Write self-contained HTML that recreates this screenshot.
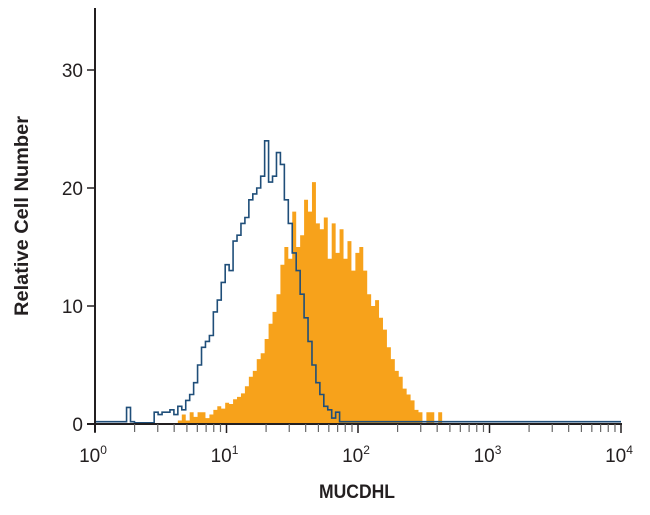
<!DOCTYPE html>
<html><head><meta charset="utf-8"><style>
body{margin:0;background:#fff;width:650px;height:510px;overflow:hidden}
text{font-family:"Liberation Sans",sans-serif;}
</style></head><body>
<svg id="chart" width="650" height="510" xmlns="http://www.w3.org/2000/svg">
<g id="plot"></g>
<text transform="translate(28,216) rotate(-90)" text-anchor="middle" font-size="19" font-weight="bold" fill="#231f20" textLength="200" lengthAdjust="spacingAndGlyphs">Relative Cell Number</text>
<text x="357" y="498" text-anchor="middle" font-size="19" font-weight="bold" fill="#231f20" textLength="76" lengthAdjust="spacingAndGlyphs">MUCDHL</text>
</svg>
<script>
const binStart = 0, binWidth = 0.03;
const blueCounts = [0.2,0.2,0.2,0.2,0.2,0.2,0.2,0.2,1.4,0.2,0.1,0.1,0.1,0.1,0.1,1,0.8,1,1,1.2,0.8,1.5,1.2,2,2.5,3.5,5,6.5,7,7.5,9.5,10.5,12,13.5,13,15.5,16,17,17.5,19,19.5,20,21,24,20.5,21,23,22,19,17,14.5,13,11,9,7,5,3.5,2.5,1.5,1.2,0.5,1,0.2];
const orangeCounts = [0,0,0,0,0,0,0,0,0,0,0,0,0,0,0,0,0,0,0,0,0,0.3,0.8,0.3,1,0.6,1,1,0.5,0.8,1.2,1.5,1.3,1.8,1.7,2.1,2.3,2.6,3.2,4,4.5,5.5,6,7.2,8.5,9.5,11,13.5,15,14,18,15,16,19,18,20.5,17,16.5,17.5,14,17,14.5,16.5,14,15.5,13,14.5,15,13,11,10,10.5,9,8,6.5,5.5,4.5,4,3,2.5,2,1.2,1,0,1,1,0,1,0];
const yTicks = [0,10,20,30];
const xDecades = [0,1,2,3,4];

const X0=95, DEC=131.5, Y0=424, YU=11.8;
const xs = l => X0 + l*DEC;
const ys = v => Y0 - v*YU;
const NS="http://www.w3.org/2000/svg";
const plot=document.getElementById('plot');
function mk(tag,attrs){const e=document.createElementNS(NS,tag);for(const k in attrs)e.setAttribute(k,attrs[k]);plot.appendChild(e);return e;}

// orange filled histogram
let d=`M${xs(binStart)},${ys(0)}`;
orangeCounts.forEach((v,i)=>{const a=xs(binStart+i*binWidth),b=xs(binStart+(i+1)*binWidth);d+=` L${a},${ys(v)} L${b},${ys(v)}`;});
d+=` L${xs(binStart+orangeCounts.length*binWidth)},${ys(0)} Z`;
const orange=mk('path',{d:d,fill:'#f7a21b',stroke:'none'});



// blue step line
let bd=`M${xs(binStart)},${ys(blueCounts[0])}`;
blueCounts.forEach((v,i)=>{const a=xs(binStart+i*binWidth),b=xs(binStart+(i+1)*binWidth);bd+=` L${a},${ys(v)} L${b},${ys(v)}`;});
bd+=` L${xs(binStart+blueCounts.length*binWidth)},${ys(0.2)} L${xs(4)},${ys(0.2)}`;
const blue=mk('path',{d:bd,fill:'none',stroke:'#1f4e79','stroke-width':1.6});



// axes
const ya=mk('line',{x1:X0,y1:8,x2:X0,y2:Y0+8,stroke:'#231f20','stroke-width':2});


const xa=mk('line',{x1:X0-8,y1:Y0,x2:xs(4)+1,y2:Y0,stroke:'#231f20','stroke-width':2});



yTicks.forEach(t=>{
  const tl=mk('line',{x1:X0-8,y1:ys(t),x2:X0,y2:ys(t),stroke:'#231f20','stroke-width':1.5});
  
  
  const tx=mk('text',{x:X0-12,y:ys(t)+7,'text-anchor':'end','font-size':19,fill:'#231f20'});
  tx.textContent=t;
  
  
});
xDecades.forEach((dk,i)=>{
  const x=xs(dk);
  const tl=mk('line',{x1:x,y1:Y0,x2:x,y2:Y0+9,stroke:'#231f20','stroke-width':1.5});
  
  
  const tx=mk('text',{x:x-2,y:Y0+38,'text-anchor':'middle','font-size':19,fill:'#231f20'});
  tx.textContent='10';
  const sup=document.createElementNS(NS,'tspan');sup.setAttribute('dy','-8');sup.setAttribute('font-size','12');sup.textContent=dk;tx.appendChild(sup);
  
  
  if(i<xDecades.length-1){for(let m=2;m<=9;m++){const mx=xs(dk+Math.log10(m));
    const ml=mk('line',{x1:mx,y1:Y0,x2:mx,y2:Y0+8,stroke:'#666','stroke-width':1.2});
    
    }}
});
</script>
</body></html>
